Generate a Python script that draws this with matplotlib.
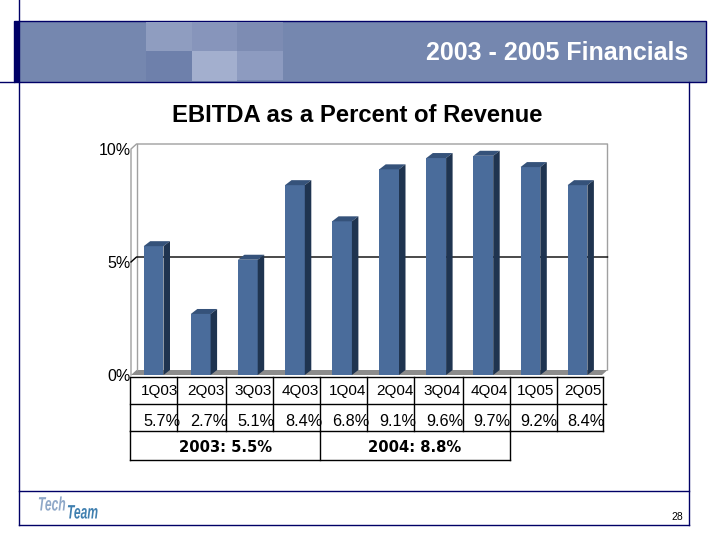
import matplotlib
matplotlib.use('Agg')
import matplotlib.pyplot as plt
import matplotlib.patheffects as pe
from matplotlib.patches import Polygon, Rectangle
from matplotlib.transforms import Affine2D

plt.rcParams['font.family'] = ['Liberation Sans', 'DejaVu Sans']

quarters = ['1Q03', '2Q03', '3Q03', '4Q03', '1Q04', '2Q04', '3Q04', '4Q04', '1Q05', '2Q05']
values = [5.7, 2.7, 5.1, 8.4, 6.8, 9.1, 9.6, 9.7, 9.2, 8.4]
value_labels = ['5.7%', '2.7%', '5.1%', '8.4%', '6.8%', '9.1%', '9.6%', '9.7%', '9.2%', '8.4%']
yearly = ['2003: 5.5%', '2004: 8.8%']
y_ticks = [0, 5, 10]
y_tick_labels = ['0%', '5%', '10%']

NAVY = '#000066'
FRONT = '#4A6C9B'
TOP = '#35527A'
SIDE = '#1F3450'


class Squeeze(pe.AbstractPathEffect):
    # narrows the logo text about its left edge, there is no condensed font
    def __init__(self, x, factor):
        super().__init__()
        self.x = x
        self.factor = factor

    def draw_path(self, renderer, gc, tpath, affine, rgbFace=None):
        sq = Affine2D().translate(-self.x, 0).scale(self.factor, 1).translate(self.x, 0)
        renderer.draw_path(gc, tpath, affine + sq, rgbFace)


fig = plt.figure(figsize=(7.2, 5.4), dpi=100)

# page furniture, in pixels
page = fig.add_axes([0, 0, 1, 1], zorder=0)
page.set_xlim(0, 720)
page.set_ylim(540, 0)
page.axis('off')

page.plot([19, 19], [0, 525], color=NAVY, lw=1)
page.plot([689, 689], [82, 525], color=NAVY, lw=1)
page.plot([19, 689], [491, 491], color=NAVY, lw=1)
page.plot([19, 689], [525, 525], color=NAVY, lw=1)
page.plot([0, 14], [82, 82], color=NAVY, lw=1)

page.add_patch(Rectangle((14, 21), 692, 61, fc='#7587AF', ec=NAVY, lw=1))
page.add_patch(Rectangle((14, 21), 6, 61, fc=NAVY, ec='none'))
page.add_patch(Rectangle((146, 22), 46, 29, fc='#8F9DC0', ec='none'))
page.add_patch(Rectangle((192, 22), 45, 29, fc='#8795BB', ec='none'))
page.add_patch(Rectangle((237, 22), 46, 29, fc='#7D8CB3', ec='none'))
page.add_patch(Rectangle((192, 51), 45, 30, fc='#A3AFCE', ec='none'))
page.add_patch(Rectangle((237, 51), 46, 29, fc='#8D9BC0', ec='none'))
page.add_patch(Rectangle((146, 51), 46, 30, fc='#6E80AB', ec='none'))

page.text(688, 53, '2003 - 2005 Financials', color='white', fontsize=18, fontweight='bold',
          ha='right', va='center')
page.text(357, 116, 'EBITDA as a Percent of Revenue', color='black', fontsize=17.2, fontweight='bold',
          ha='center', va='center')
page.text(683, 517, '28', color='black', fontsize=7.5, ha='right', va='center')

page.text(38, 506, 'Tech', color='#8FA8C8', fontsize=14, fontweight='bold', style='italic',
          ha='left', va='center', path_effects=[Squeeze(38, 0.62)])
page.text(67, 514, 'Team', color='#3F7FAF', fontsize=14, fontweight='bold', style='italic',
          ha='left', va='center', path_effects=[Squeeze(67, 0.62)])

# table grid
page.plot([130, 603], [377, 377], color='black', lw=1)
page.plot([130, 606], [404, 404], color='black', lw=1)
page.plot([130, 603], [431, 431], color='black', lw=1)
page.plot([130, 510], [460, 460], color='black', lw=1)
for x in [130, 177, 226, 273, 320, 367, 414, 463, 510, 557, 603]:
    page.plot([x, x], [377, 431], color='black', lw=1)
for x in [130, 320, 510]:
    page.plot([x, x], [431, 460], color='black', lw=1)

# chart, front plane 131..602 x 149..375
ax = fig.add_axes([131 / 720, 1 - 375 / 540, 471 / 720, 226 / 540], zorder=1)
ax.patch.set_alpha(0)
ax.set_xlim(-0.5, 9.5)
ax.set_ylim(0, 10)
for s in ax.spines.values():
    s.set_visible(False)
ax.set_xticks([])
ax.set_yticks(y_ticks)
ax.set_yticklabels(y_tick_labels, fontsize=11.5)
ax.tick_params(axis='y', length=0, pad=0)

DX = 5.5 / 47.1
BAR_DX = 6.5 / 47.1
DY = 5 / 22.6
BW = 0.42
WALL = '#A0A0A0'
L, R = -0.5, 9.5

# walls and floor
ax.plot([L, L, L + DX, R + DX, R + DX], [0, 10, 10 + DY, 10 + DY, DY], color=WALL, lw=1, clip_on=False)
ax.plot([L + DX, L + DX], [DY, 10 + DY], color=WALL, lw=1, clip_on=False)
ax.add_patch(Polygon([(L, 0), (R, 0), (R + DX, DY), (L + DX, DY)], fc='#8C8C8C', ec='none', clip_on=False))
ax.plot([L, L + DX, R + DX], [5, 5 + DY, 5 + DY], color='black', lw=1, clip_on=False)

# bars
xs = list(range(len(values)))
ax.bar([x - 0.02 for x in xs], values, width=BW, color=FRONT, zorder=3)
for x, v in zip(xs, values):
    x0 = x - 0.02 - BW / 2
    x1 = x - 0.02 + BW / 2
    ax.add_patch(Polygon([(x0, v), (x1, v), (x1 + BAR_DX, v + DY), (x0 + BAR_DX, v + DY)], fc=TOP, ec='none',
                         zorder=3, clip_on=False))
    ax.add_patch(Polygon([(x1, 0), (x1 + BAR_DX, DY), (x1 + BAR_DX, v + DY), (x1, v)], fc=SIDE, ec='none',
                         zorder=3, clip_on=False))

# table text, x from the chart categories and y in page pixels
tr = matplotlib.transforms.blended_transform_factory(ax.transData, page.transData)
for x, q, lab in zip(xs, quarters, value_labels):
    ax.text(x + 0.1, 391, q, transform=tr, ha='center', va='center', fontsize=11, clip_on=False)
    ax.text(x + 0.16, 421, lab, transform=tr, ha='center', va='center', fontsize=11.7, clip_on=False)
page.text(226, 447, yearly[0], ha='center', va='center', fontsize=10.6, fontweight='bold',
          family='DejaVu Sans')
page.text(415, 447, yearly[1], ha='center', va='center', fontsize=10.6, fontweight='bold',
          family='DejaVu Sans')

fig.savefig('out.png', dpi=100)
